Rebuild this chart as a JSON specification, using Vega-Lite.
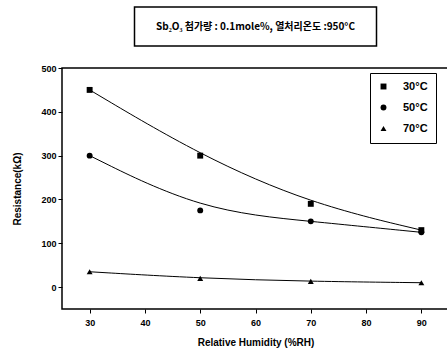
{
  "$schema": "https://vega.github.io/schema/vega-lite/v6.json",
  "padding": {"left": 12, "top": 6, "right": 0, "bottom": 2},
  "background": "white",
  "vconcat": [
    {
      "width": 242,
      "height": 39,
      "view": {"stroke": "black", "strokeWidth": 1.5},
      "data": {"values": [{"label": "Sb₂O₃ 첨가량 : 0.1mole%, 열처리온도 :950°C"}]},
      "mark": {"type": "text", "font": "Noto Sans CJK KR", "fontWeight": "bold", "fontSize": 10, "color": "black"},
      "encoding": {"text": {"field": "label"}}
    },
    {
      "width": 387,
      "height": 241,
      "view": {"stroke": "black", "strokeWidth": 1.5},
      "data": {"values": [
        {"rh": 30, "r": 450, "t": "30°C"},
        {"rh": 50, "r": 300, "t": "30°C"},
        {"rh": 70, "r": 190, "t": "30°C"},
        {"rh": 90, "r": 130, "t": "30°C"},
        {"rh": 30, "r": 300, "t": "50°C"},
        {"rh": 50, "r": 175, "t": "50°C"},
        {"rh": 70, "r": 150, "t": "50°C"},
        {"rh": 90, "r": 125, "t": "50°C"},
        {"rh": 30, "r": 35, "t": "70°C"},
        {"rh": 50, "r": 20, "t": "70°C"},
        {"rh": 70, "r": 13, "t": "70°C"},
        {"rh": 90, "r": 10, "t": "70°C"}
      ]},
      "encoding": {
        "x": {"field": "rh", "type": "quantitative", "scale": {"domain": [25, 95], "nice": false, "zero": false},
          "axis": {"title": "Relative Humidity (%RH)", "values": [30, 40, 50, 60, 70, 80, 90], "labelPadding": 5, "titlePadding": 10}},
        "y": {"field": "r", "type": "quantitative", "scale": {"domain": [-50, 500], "nice": false},
          "axis": {"title": "Resistance(kΩ)", "values": [0, 100, 200, 300, 400, 500], "titlePadding": 18}}
      },
      "layer": [
        {
          "mark": {"type": "line", "interpolate": "basis", "color": "black", "strokeWidth": 1},
          "encoding": {"detail": {"field": "t"}}
        },
        {
          "mark": {"type": "point", "filled": true, "color": "black", "opacity": 1},
          "encoding": {
            "shape": {"field": "t", "type": "nominal",
              "scale": {"domain": ["30°C", "50°C", "70°C"], "range": ["square", "circle", "triangle-up"]},
              "legend": {"title": null, "orient": "none", "legendX": 308, "legendY": 5, "strokeColor": "black",
                "padding": 8, "rowPadding": 8, "labelOffset": 14, "labelFontSize": 11, "labelFont": "Liberation Sans",
                "labelFontWeight": "bold", "symbolSize": 35, "symbolFillColor": "black", "symbolStrokeColor": "black"}
            },
            "size": {"value": 35}
          }
        }
      ]
    }
  ],
  "resolve": {"legend": {"shape": "independent"}},
  "spacing": 22,
  "center": true,
  "bounds": "flush",
  "config": {
    "axis": {
      "grid": false,
      "domain": false,
      "tickColor": "black",
      "tickSize": 4,
      "labelFont": "Liberation Sans",
      "labelFontWeight": "bold",
      "labelFontSize": 9,
      "labelColor": "black",
      "titleFont": "Liberation Sans",
      "titleFontWeight": "bold",
      "titleFontSize": 10,
      "titleColor": "black"
    }
  }
}
